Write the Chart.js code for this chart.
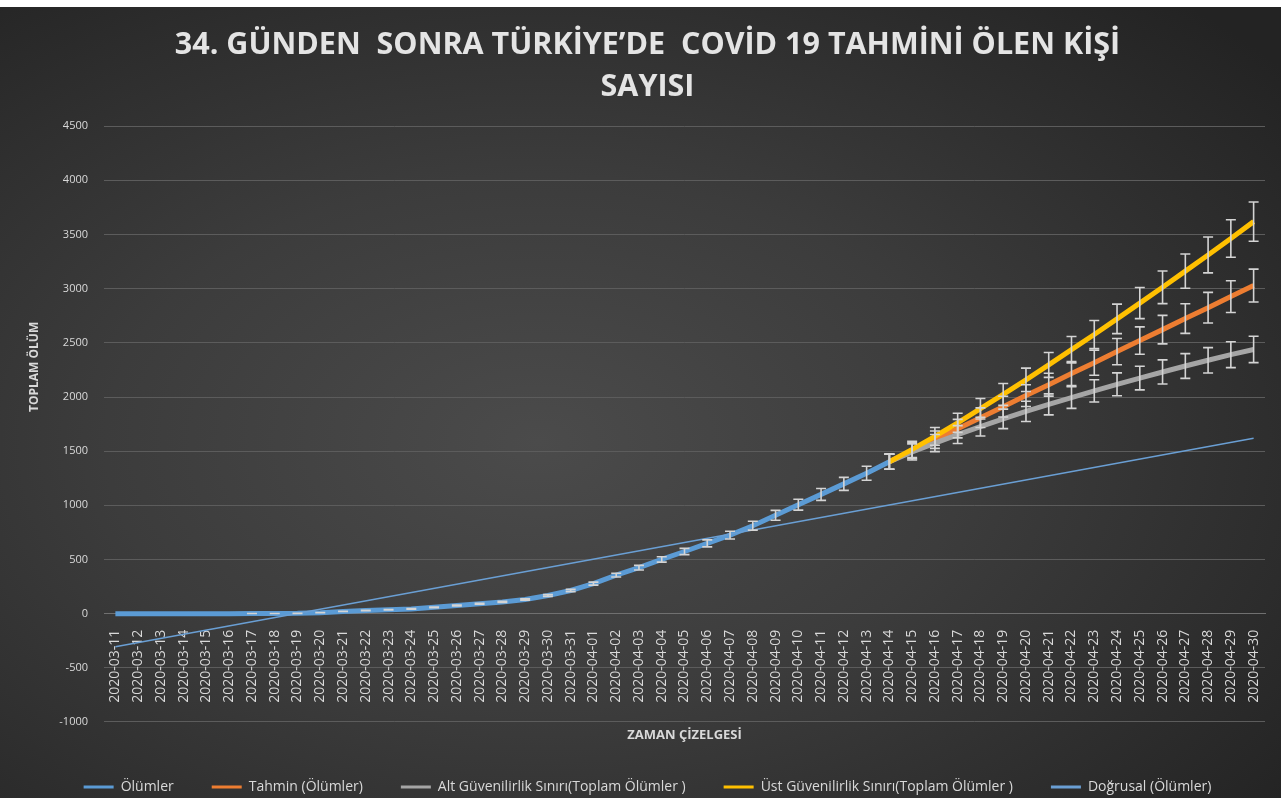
<!DOCTYPE html>
<html lang="tr">
<head>
<meta charset="utf-8">
<title>Covid 19 tahmini ölen kişi sayısı</title>
<script src="https://cdn.jsdelivr.net/npm/chart.js@4.4.1/dist/chart.umd.min.js"></script>
<style>
  html, body { margin: 0; padding: 0; background: #fff; }
  .chart-box {
    position: absolute; left: 0; top: 7px; width: 1281px; height: 791px;
    background: radial-gradient(ellipse 75% 75% at 42% 55%, #4b4b4b 0%, #3c3c3c 45%, #232323 100%);
  }
</style>
</head>
<body>
<div class="chart-box"><canvas id="covidChart"></canvas></div>
<script>
const gunler = [
  '2020-03-11','2020-03-12','2020-03-13','2020-03-14','2020-03-15','2020-03-16','2020-03-17',
  '2020-03-18','2020-03-19','2020-03-20','2020-03-21','2020-03-22','2020-03-23','2020-03-24',
  '2020-03-25','2020-03-26','2020-03-27','2020-03-28','2020-03-29','2020-03-30','2020-03-31',
  '2020-04-01','2020-04-02','2020-04-03','2020-04-04','2020-04-05','2020-04-06','2020-04-07',
  '2020-04-08','2020-04-09','2020-04-10','2020-04-11','2020-04-12','2020-04-13','2020-04-14',
  '2020-04-15','2020-04-16','2020-04-17','2020-04-18','2020-04-19','2020-04-20','2020-04-21',
  '2020-04-22','2020-04-23','2020-04-24','2020-04-25','2020-04-26','2020-04-27','2020-04-28',
  '2020-04-29','2020-04-30'
];

// gerçek ölümler (03-11 .. 04-14)
const olumler = [0, 0, 0, 0, 0, 0, 1, 2, 3, 9, 21, 30, 37, 44, 59, 75, 92, 108, 131, 168, 214,
  277, 356, 425, 501, 574, 649, 725, 812, 908, 1006, 1101, 1198, 1296, 1403];

// tahmin ve güven sınırları (04-14 .. 04-30)
const tahmin = [1403, 1505, 1606, 1708, 1809, 1911, 2013, 2114, 2216, 2317, 2419, 2521, 2622, 2724, 2825, 2927, 3029];
const altSinir = [1403, 1493, 1575, 1653, 1727, 1798, 1867, 1932, 1995, 2057, 2117, 2175, 2231, 2286, 2339, 2391, 2439];
const ustSinir = [1403, 1516, 1637, 1762, 1892, 2024, 2159, 2296, 2437, 2577, 2721, 2867, 3013, 3162, 3311, 3463, 3619];

// doğrusal eğilim çizgisinin uçları (03-11 ve 04-30)
const dogrusal = [-305, 1619];

const hataPayi = 0.05; // %5 hata çubukları

const bos = n => Array(n).fill(null);
const basla = olumler.length - 1;

const textColor = '#d9d9d9';
Chart.defaults.font.family = '"Open Sans", sans-serif';
Chart.defaults.color = textColor;

// hata çubukları
const errorBars = {
  id: 'errorBars',
  afterDatasetsDraw(chart) {
    const ctx = chart.ctx;
    const y = chart.scales.y;
    ctx.save();
    ctx.strokeStyle = '#d4d4d4';
    ctx.lineWidth = 1.6;
    chart.data.datasets.forEach((ds, i) => {
      if (!ds.errorBar) return;
      const meta = chart.getDatasetMeta(i);
      meta.data.forEach((pt, j) => {
        const v = ds.data[j];
        if (v == null || v === 0) return;
        const top = y.getPixelForValue(v * (1 + hataPayi));
        const bot = y.getPixelForValue(v * (1 - hataPayi));
        ctx.beginPath();
        ctx.moveTo(pt.x, top); ctx.lineTo(pt.x, bot);
        ctx.moveTo(pt.x - 5, top); ctx.lineTo(pt.x + 5, top);
        ctx.moveTo(pt.x - 5, bot); ctx.lineTo(pt.x + 5, bot);
        ctx.stroke();
      });
    });
    ctx.restore();
  }
};

// dikey eksen başlığı
const yTitle = {
  id: 'yTitle',
  afterDraw(chart) {
    const { ctx, chartArea } = chart;
    ctx.save();
    ctx.fillStyle = textColor;
    ctx.font = 'bold 12px "Open Sans"';
    ctx.textAlign = 'center';
    ctx.textBaseline = 'middle';
    ctx.translate(35, chartArea.top + chartArea.height * 0.404);
    ctx.rotate(-Math.PI / 2);
    ctx.fillText('TOPLAM ÖLÜM', 0, 0);
    ctx.restore();
  }
};

const ctx = document.getElementById('covidChart').getContext('2d');
new Chart(ctx, {
  type: 'line',
  data: {
    labels: gunler,
    datasets: [
      {
        label: 'Ölümler',
        data: olumler.concat(bos(gunler.length - olumler.length)),
        borderColor: '#5b9bd5', borderWidth: 5, errorBar: true, order: 5
      },
      {
        label: 'Tahmin (Ölümler)',
        data: bos(basla).concat(tahmin),
        borderColor: '#ed7d31', borderWidth: 5, errorBar: true, order: 4
      },
      {
        label: 'Alt Güvenilirlik Sınırı(Toplam Ölümler )',
        data: bos(basla).concat(altSinir),
        borderColor: '#a5a5a5', borderWidth: 5, errorBar: true, order: 3
      },
      {
        label: 'Üst Güvenilirlik Sınırı(Toplam Ölümler )',
        data: bos(basla).concat(ustSinir),
        borderColor: '#ffc000', borderWidth: 5, errorBar: true, order: 2
      },
      {
        label: 'Doğrusal (Ölümler)',
        data: [dogrusal[0]].concat(bos(gunler.length - 2), [dogrusal[1]]),
        borderColor: '#6a9fd4', borderWidth: 1.5, spanGaps: true, order: 1
      }
    ]
  },
  options: {
    responsive: true,
    maintainAspectRatio: false,
    animation: false,
    layout: { padding: { left: 30, right: 16, top: 0, bottom: -6 } },
    elements: { point: { radius: 0, hoverRadius: 0 }, line: { tension: 0 } },
    plugins: {
      title: {
        display: true,
        text: ['34. GÜNDEN  SONRA TÜRKİYE’DE  COVİD 19 TAHMİNİ ÖLEN KİŞİ', 'SAYISI'],
        color: '#e4e4e4',
        font: { size: 30.5, weight: 'bold', lineHeight: 1.38 },
        padding: { top: 17, bottom: 18 }
      },
      subtitle: {
        display: true,
        position: 'bottom',
        fullSize: false,
        weight: 500,
        text: 'ZAMAN ÇİZELGESİ',
        color: textColor,
        font: { size: 13, weight: 'bold', lineHeight: 1.0 },
        padding: { top: 7, bottom: 0 }
      },
      legend: {
        position: 'bottom',
        labels: {
          boxWidth: 30,
          boxHeight: 3,
          padding: 38,
          font: { size: 14 },
          color: textColor,
          generateLabels(chart) {
            return chart.data.datasets.map((ds, i) => ({
              text: ds.label,
              fillStyle: ds.borderColor,
              strokeStyle: ds.borderColor,
              lineWidth: 0,
              fontColor: textColor,
              hidden: !chart.isDatasetVisible(i),
              datasetIndex: i
            }));
          }
        }
      },
      tooltip: { enabled: false }
    },
    scales: {
      x: {
        type: 'category',
        offset: true,
        position: { y: 0 },
        grid: { display: false },
        border: { display: true, color: '#707070', width: 1 },
        ticks: {
          autoSkip: false,
          minRotation: 90,
          maxRotation: 90,
          padding: 8,
          color: textColor,
          font: { size: 14 }
        }
      },
      y: {
        min: -1000,
        max: 4500,
        afterFit(scale) { scale.width = 74; },
        grid: { color: '#5c5c5c', lineWidth: 1, drawTicks: false },
        border: { display: false },
        ticks: {
          stepSize: 500,
          padding: 16,
          color: textColor,
          font: { size: 11 },
          callback: v => String(v)
        }
      }
    }
  },
  plugins: [errorBars, yTitle]
});
</script>
</body>
</html>
